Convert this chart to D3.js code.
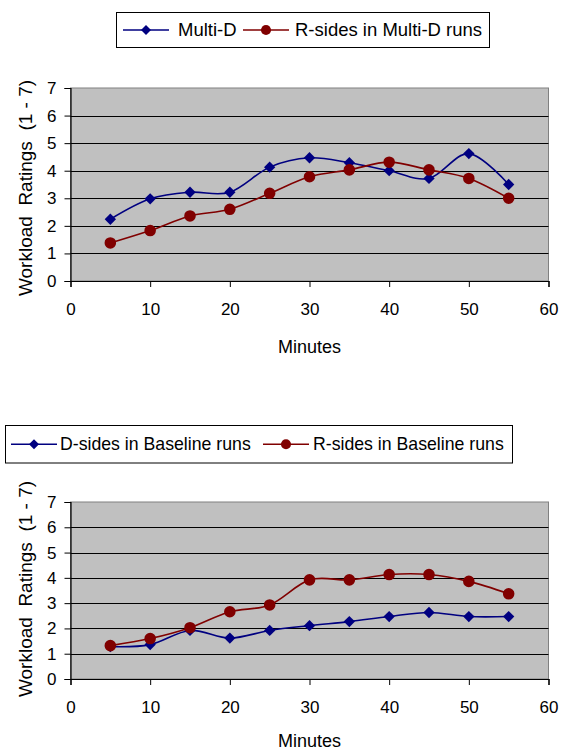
<!DOCTYPE html>
<html><head><meta charset="utf-8">
<script src="https://cdn.jsdelivr.net/npm/d3@7"></script>
<style>body{margin:0;background:#fff}svg{display:block}text{font-family:Arial,"Liberation Sans",sans-serif}</style>
</head><body>
<script>
const minutes = [5,10,15,20,25,30,35,40,45,50,55];
const multiD = [2.24,2.98,3.22,3.22,4.13,4.47,4.29,4.0,3.72,4.62,3.5];
const rMultiD = [1.38,1.83,2.36,2.6,3.18,3.78,4.03,4.31,4.03,3.72,3.0];
const dBaseline = [1.28,1.36,1.92,1.62,1.92,2.11,2.27,2.47,2.63,2.47,2.47];
const rBaseline = [1.32,1.6,2.03,2.66,2.93,3.92,3.92,4.13,4.13,3.86,3.37];
const xTicks = [0,10,20,30,40,50,60];
const yTicks = [0,1,2,3,4,5,6,7];
const top1Labels = ["Multi-D","R-sides in Multi-D runs"];
const top2Labels = ["D-sides in Baseline runs","R-sides in Baseline runs"];
const blue = "#000080", red = "#800000";

const svg = d3.select("body").append("svg").attr("width",561).attr("height",753);

function chart(cfg){
  const g = svg.append("g");
  const x = d3.scaleLinear().domain([0,60]).range([70.5,548.5]);
  const y = d3.scaleLinear().domain([0,7]).range([cfg.bottom, cfg.top]);
  g.append("rect").attr("x",x(0)).attr("y",y(7)).attr("width",x(60)-x(0)).attr("height",y(0)-y(7))
    .attr("fill","#c0c0c0").attr("stroke","#808080").attr("stroke-width",1);
  g.selectAll(".grid").data(yTicks.filter(d=>d>0&&d<7)).join("line")
    .attr("x1",x(0)).attr("x2",x(60)).attr("y1",d=>Math.round(y(d))+0.5).attr("y2",d=>Math.round(y(d))+0.5)
    .attr("stroke","#000").attr("stroke-width",1);
  const ya = g.append("g").attr("transform",`translate(${x(0)},0)`)
    .call(d3.axisLeft(y).tickValues(yTicks).tickSize(6).tickPadding(8).tickFormat(d3.format("d")));
  const xa = g.append("g").attr("transform",`translate(0,${y(0)})`)
    .call(d3.axisBottom(x).tickValues(xTicks).tickSize(6).tickFormat(d3.format("d")));
  [ya,xa].forEach(a=>{a.select(".domain").attr("stroke","#000").attr("stroke-width",1.2);
    a.selectAll(".tick line").attr("stroke","#000");
    a.selectAll("text").attr("font-size",17).attr("fill","#000").attr("font-family","Arial, Liberation Sans, sans-serif");});
  xa.selectAll("text").attr("y",34).attr("dy",null);
  g.append("text").attr("x",(x(0)+x(60))/2).attr("y",cfg.xlabelY).attr("text-anchor","middle")
    .attr("font-size",18).text("Minutes");
  g.append("text").attr("transform",`translate(32,${cfg.ylabelC}) rotate(-90)`).attr("text-anchor","middle")
    .attr("font-size",19).style("white-space","pre").text("Workload  Ratings  (1 - 7)");
  const line = d3.line().x((d,i)=>x(minutes[i])).y(d=>y(d)).curve(d3.curveCardinal.tension(0));
  cfg.series.forEach(s=>{
    g.append("path").attr("d",line(s.values)).attr("fill","none").attr("stroke",s.color).attr("stroke-width",1.6);
    g.selectAll(null).data(s.values).join("path")
      .attr("d",s.shape==="d"?d3.symbol().type(d3.symbolSquare).size(64)():d3.symbol().type(d3.symbolCircle).size(105)())
      .attr("fill",s.color)
      .attr("transform",(d,i)=>`translate(${x(minutes[i])},${y(d)})`+(s.shape==="d"?" rotate(45)":""));
  });
  // legend
  const L = cfg.legend;
  g.append("rect").attr("x",L.x).attr("y",L.y).attr("width",L.w).attr("height",L.h)
    .attr("fill","#fff").attr("stroke","#000").attr("stroke-width",1);
  cfg.series.forEach((s,i)=>{
    const it = L.items[i];
    const ly = L.y+L.h/2;
    g.append("line").attr("x1",it.x1).attr("x2",it.x1+46).attr("y1",ly).attr("y2",ly).attr("stroke",s.color).attr("stroke-width",1.6);
    g.append("path").attr("d",s.shape==="d"?d3.symbol().type(d3.symbolSquare).size(50)():d3.symbol().type(d3.symbolCircle).size(80)())
      .attr("transform",`translate(${it.x1+23},${ly})`+(s.shape==="d"?" rotate(45)":"")).attr("fill",s.color);
    g.append("text").attr("x",it.tx).attr("y",ly+5.5).attr("font-size",L.fs).text(s.label);
  });
}

chart({top:88,bottom:281,xlabelY:353,ylabelC:188,
  series:[{values:multiD,color:blue,shape:"d",label:top1Labels[0]},{values:rMultiD,color:red,shape:"c",label:top1Labels[1]}],
  legend:{x:116.5,y:12.5,w:373,h:35,fs:18.5,items:[{x1:123,tx:178},{x1:243,tx:295}]}});
chart({top:502,bottom:679,xlabelY:747,ylabelC:589,
  series:[{values:dBaseline,color:blue,shape:"d",label:top2Labels[0]},{values:rBaseline,color:red,shape:"c",label:top2Labels[1]}],
  legend:{x:5.5,y:425.5,w:507,h:37.5,fs:17.7,items:[{x1:11,tx:60},{x1:263,tx:313}]}});
</script>
</body></html>
